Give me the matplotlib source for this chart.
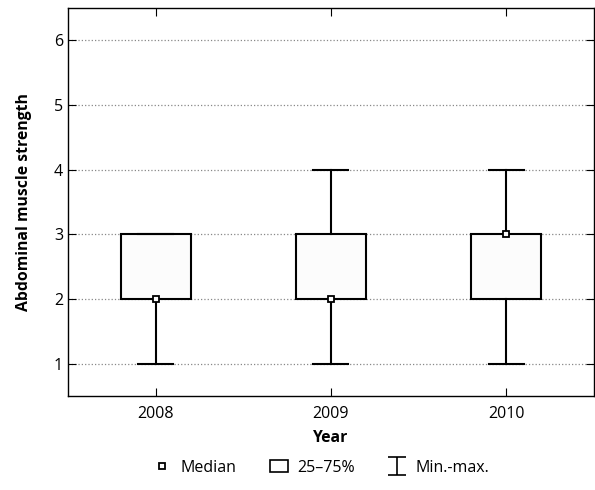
import matplotlib.pyplot as plt
from matplotlib.lines import Line2D
from matplotlib.patches import Patch
from matplotlib.path import Path

plt.rcParams['font.family'] = ['Open Sans', 'DejaVu Sans']

# Data
years = ['2008', '2009', '2010']
mins = [1, 1, 1]
q1s = [2, 2, 2]
medians = [2, 2, 3]
q3s = [3, 3, 3]
maxs = [3, 4, 4]

stats = [
    {'label': y, 'whislo': lo, 'q1': a, 'med': m, 'q3': b, 'whishi': hi}
    for y, lo, a, m, b, hi in zip(years, mins, q1s, medians, q3s, maxs)
]

fig = plt.figure(figsize=(5.95, 4.9), dpi=100)
ax = fig.add_axes([0.1143, 0.1918, 0.8837, 0.7919])

ax.bxp(stats, positions=range(len(years)), widths=0.4, capwidths=0.2,
       showfliers=False, patch_artist=True,
       boxprops=dict(facecolor='#fcfcfc', edgecolor='black', linewidth=1.5),
       whiskerprops=dict(color='black', linewidth=1.5),
       capprops=dict(color='black', linewidth=1.5),
       medianprops=dict(linewidth=0), zorder=3)
ax.plot(range(len(years)), medians, linestyle='none', marker='s', markersize=5,
        markerfacecolor='#fcfcfc', markeredgecolor='black', markeredgewidth=1.3,
        zorder=4)

ax.set_xlim(-0.5, 2.5)
ax.set_ylim(0.5, 6.5)
ax.set_xticks(range(len(years)))
ax.set_xticklabels(years)
ax.set_yticks([1, 2, 3, 4, 5, 6])
ax.tick_params(direction='in', top=True, right=True, labelsize=11.5, length=6)
ax.tick_params(axis='x', pad=7)
ax.yaxis.grid(True, linestyle=':', color='#888888', linewidth=0.9)
ax.set_axisbelow(True)
for s in ax.spines.values():
    s.set_linewidth(1.0)

ax.set_xlabel('Year', fontsize=11.3, fontweight='bold', labelpad=6)
ax.set_ylabel('Abdominal muscle strength', fontsize=11.3, fontweight='bold', labelpad=16)

ibeam = Path([(-1, 1), (1, 1), (0, 1), (0, -1), (-1, -1), (1, -1)],
             [Path.MOVETO, Path.LINETO, Path.MOVETO, Path.LINETO, Path.MOVETO, Path.LINETO])
handles = [
    Line2D([], [], linestyle='none', marker='s', markersize=5,
           markerfacecolor='white', markeredgecolor='black', markeredgewidth=1.3),
    Patch(facecolor='white', edgecolor='black', linewidth=1.2),
    Line2D([], [], linestyle='none', marker=ibeam, markersize=13,
           markeredgecolor='black', markeredgewidth=1.2),
]
fig.legend(handles, ['Median', '25–75%', 'Min.-max.'], loc='lower center',
           bbox_to_anchor=(0.54, 0.0), ncol=3, frameon=False, fontsize=11.5,
           handlelength=1.1, handletextpad=0.6, columnspacing=2.1)

fig.savefig('out.png', dpi=100)
